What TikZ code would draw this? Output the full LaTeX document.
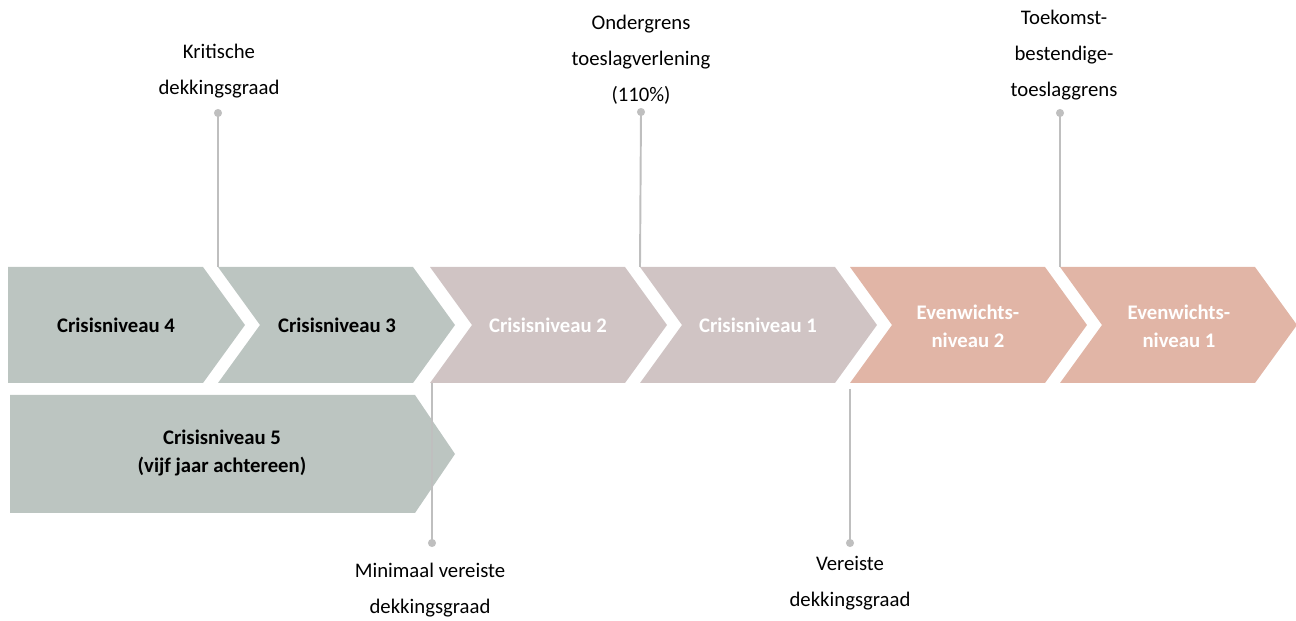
\documentclass[tikz,border=0pt]{standalone}
\usepackage{fontspec}
\setmainfont{Carlito}
\usepackage{xcolor}
\definecolor{crisisgrey}{RGB}{188,197,193}
\definecolor{crisismauve}{RGB}{208,196,196}
\definecolor{evensalmon}{RGB}{225,181,166}
\definecolor{pinline}{RGB}{191,191,191}

\begin{document}
\begin{tikzpicture}[x=0.02cm, y=-0.02cm,
    stagetext/.style={font=\fontsize{11.8}{15.9}\selectfont\bfseries, align=center},
    marktext/.style={font=\fontsize{11.8}{20.4}\selectfont, align=center},
    pin/.style={draw=pinline, line width=1.1pt}]
  \useasboundingbox (0,0) rectangle (1296,621);

  % onderste rij
  \fill[crisisgrey] (10,395) -- (415,395) -- (455,454) -- (415,513) -- (10,513) -- cycle;
  \node[stagetext] (c5) at (222,453) {Crisisniveau 5\\(vijf jaar achtereen)};

  % bovenste rij
  \fill[crisisgrey] (8,267) -- (203,267) -- (245,325) -- (203,383) -- (8,383) -- cycle;
  \foreach \l/\col/\n in {218/crisisgrey/2, 430/crisismauve/3, 640/crisismauve/4,
                          850/evensalmon/5, 1060/evensalmon/6}{
    \fill[\col] (\l,267) -- ++(195,0) -- ++(42,58) -- ++(-42,58) -- ++(-195,0) -- ++(42,-58) -- cycle;
    \coordinate (s\n-nw) at (\l,267);
    \coordinate (s\n-sw) at (\l,383);
  }

  \node[stagetext] (c4) at (116,325) {Crisisniveau 4};
  \node[stagetext] (c3) at (337,325) {Crisisniveau 3};
  \node[stagetext, white] (c2) at (548,325) {Crisisniveau 2};
  \node[stagetext, white] (c1) at (758,325) {Crisisniveau 1};
  \node[stagetext, white] (e2) at (968,326) {Evenwichts-\\niveau 2};
  \node[stagetext, white] (e1) at (1179,326) {Evenwichts-\\niveau 1};

  % grenzen
  \coordinate (kd) at (218,113);
  \coordinate (og) at (641,112);
  \coordinate (tk) at (1060,113);
  \coordinate (mv) at (432,543);
  \coordinate (vd) at (850,543);

  \draw[pin] (kd) -- (s2-nw);
  \draw[pin] (og) -- (s4-nw);
  \draw[pin] (tk) -- (s6-nw);
  \draw[pin] (mv |- s3-sw) -- (mv);
  \draw[pin] ([yshift=-0.12cm]vd |- s5-sw) -- (vd);
  \foreach \p in {kd, og, tk, mv, vd}
    \fill[pinline] (\p) circle (2.3pt);

  \node[marktext] (kdl) at (219,71) {Kritische\\dekkingsgraad};
  \node[marktext] (ogl) at (641,60) {Ondergrens\\toeslagverlening\\(110\%)};
  \node[marktext] (tkl) at (1064,55) {Toekomst-\\bestendige-\\toeslaggrens};
  \node[marktext] (mvl) at (430,590) {Minimaal vereiste\\dekkingsgraad};
  \node[marktext] (vdl) at (850,583) {Vereiste\\dekkingsgraad};
\end{tikzpicture}
\end{document}
